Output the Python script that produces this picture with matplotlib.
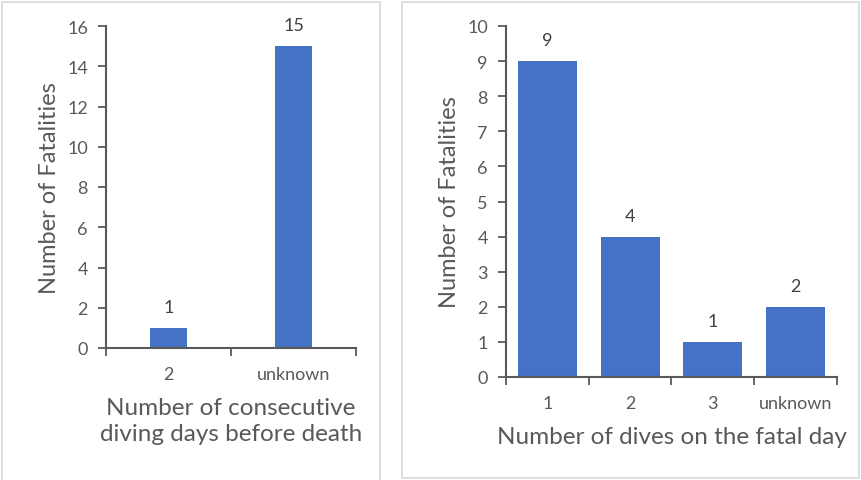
import matplotlib.pyplot as plt
from matplotlib.patches import Rectangle

# data
days_cats = ["2", "unknown"]
days_vals = [1, 15]
dives_cats = ["1", "2", "3", "unknown"]
dives_vals = [9, 4, 1, 2]

W, H = 862, 481
BAR = "#4472C4"
AX = "#595959"
TXT = "#595959"
plt.rcParams['font.family'] = ['Lato', 'DejaVu Sans']

fig = plt.figure(figsize=(W / 100, H / 100), dpi=100)


def px_axes(x0, y0, x1, y1):
    # pixel box (top-left origin) -> figure axes
    return fig.add_axes([x0 / W, 1 - y1 / H, (x1 - x0) / W, (y1 - y0) / H])


# panel borders
for (x0, y0, x1, y1) in [(2.5, 2.5, 380.5, 490), (402.5, 2.5, 859.5, 478.5)]:
    fig.patches.append(Rectangle((x0 / W, 1 - y1 / H), (x1 - x0) / W, (y1 - y0) / H,
                                 transform=fig.transFigure, fill=False,
                                 edgecolor="#d9d9d9", linewidth=1.2))


def style(ax, n, ymax, step):
    ax.set_xlim(0, n)
    ax.set_ylim(0, ymax)
    ax.set_yticks(range(0, ymax + 1, step))
    ax.set_xticks(range(0, n + 1), minor=False)
    ax.set_xticklabels([])
    for s in ["top", "right"]:
        ax.spines[s].set_visible(False)
    for s in ["left", "bottom"]:
        ax.spines[s].set_color(AX)
        ax.spines[s].set_linewidth(1.5)
    ax.tick_params(axis="both", direction="out", length=6, width=1.3, color=AX,
                   labelcolor=TXT, labelsize=13)
    ax.tick_params(axis="y", pad=7)


def draw(ax, cats, vals, width):
    xs = [i + 0.5 for i in range(len(cats))]
    ax.bar(xs, vals, width=width, color=BAR)
    ax.set_xticks(xs, minor=True)
    ax.set_xticklabels(cats, minor=True)
    ax.tick_params(axis="x", which="minor", length=0, pad=13, labelsize=13,
                   labelcolor=TXT)
    for x, v in zip(xs, vals):
        ax.annotate(str(v), (x, v), xytext=(0, 15), textcoords="offset points",
                    ha="center", va="center", fontsize=13, color="#404040")


# left chart
ax1 = px_axes(106, 27, 356, 349)
style(ax1, 2, 16, 2)
draw(ax1, days_cats, days_vals, 0.3)
ax1.set_ylabel("Number of Fatalities", fontsize=17, color=TXT, labelpad=5)
ax1.set_xlabel("Number of consecutive\ndiving days before death", fontsize=17.5,
               color=TXT, labelpad=11, linespacing=1.3)

# right chart
ax2 = px_axes(506, 27, 837, 378)
style(ax2, 4, 10, 1)
draw(ax2, dives_cats, dives_vals, 0.71)
ax2.set_ylabel("Number of Fatalities", fontsize=17, color=TXT, labelpad=5)
ax2.set_xlabel("Number of dives on the fatal day", fontsize=17.5, color=TXT, labelpad=11)

fig.savefig("out.png", dpi=100)
